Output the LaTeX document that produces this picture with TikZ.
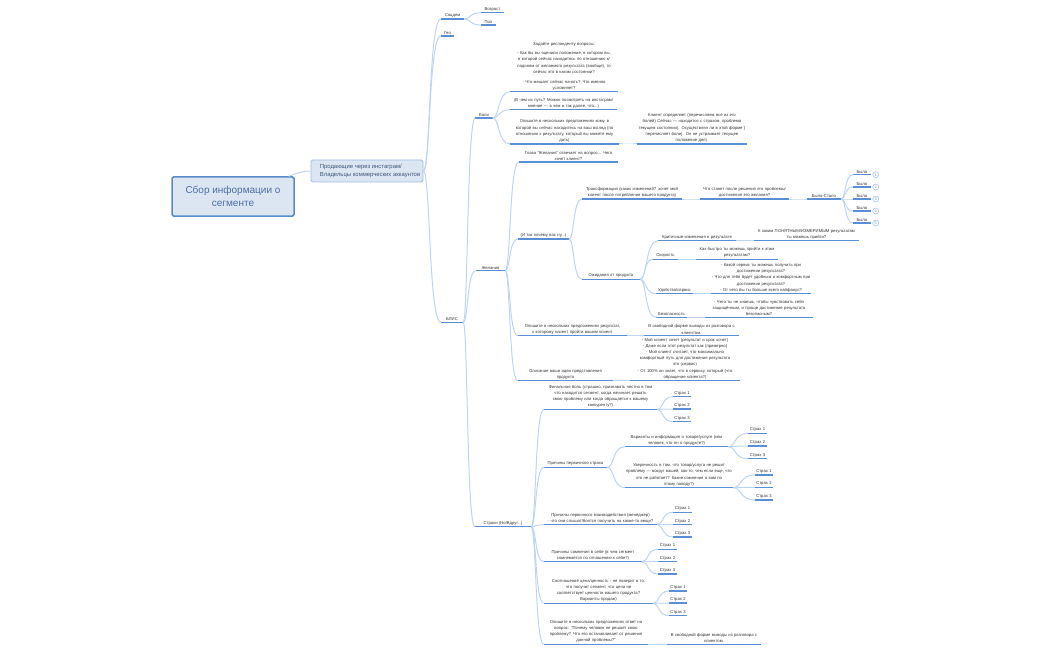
\documentclass[tikz,border=0pt]{standalone}
\usepackage{fontspec}
\setmainfont{Liberation Sans}
\usetikzlibrary{calc}
\definecolor{ulinec}{HTML}{5A8FD6}
\definecolor{connc}{HTML}{BFD4F0}
\definecolor{rootfill}{HTML}{DCE6F2}
\definecolor{rootline}{HTML}{5B8AC8}
\definecolor{subline}{HTML}{9DBCE4}
\definecolor{rootink}{HTML}{4F6FA5}
\definecolor{subink}{HTML}{3F5678}
\tikzset{
  topic/.style={anchor=south,inner xsep=0pt,inner ysep=1.4pt,align=center,
    font=\fontsize{4.2}{6.2}\selectfont,text=black!80,
    append after command={(\tikzlastnode.south west) edge[uline] (\tikzlastnode.south east)}},
  uline/.style={draw=ulinec,line width=1.1pt},
  conn/.style={draw=connc,line width=1pt},
  rootbox/.style={draw=rootline,line width=1.5pt,fill=rootfill,rounded corners=1.5pt,
    text=rootink,align=center,font=\fontsize{10}{13}\selectfont,inner sep=0pt},
  subbox/.style={draw=subline,line width=0.8pt,fill=rootfill,rounded corners=1.5pt,
    text=subink,align=left,font=\fontsize{5.9}{8}\selectfont,inner sep=0pt},
  notec/.style={circle,draw=subline,line width=0.5pt,fill=white,minimum size=6pt,inner sep=0pt,
    text=ulinec,font=\fontsize{3.8}{4}\selectfont}
}
% name, x1, x2, y, text
\newcommand{\topic}[5]{\pgfmathsetmacro{\tw}{#3-#2}\pgfmathsetmacro{\tc}{(#2+#3)/2}%
  \node[topic,text width=\tw pt,minimum width=\tw pt] (#1) at (\tc,#4) {#5};}
% parent, child: leaves the parent flat, turns early, runs flat into the child
\newcommand{\lnk}[2]{\draw[conn] let \p1=(#1.south east),\p2=(#2.south west) in
  (\p1) .. controls ({0.6*\x1+0.4*\x2},\y1) and ({0.7*\x1+0.3*\x2},\y2) .. (\p2);}
\begin{document}
\begin{tikzpicture}[x=1pt,y=-1pt]
\useasboundingbox (0,0) rectangle (1050,650);
\node[rootbox,minimum width=122pt,minimum height=39pt] (root) at (233,196.5) {Сбор информации о\\сегменте};
\node[subbox,minimum width=112pt,minimum height=22pt] (sub) at (367,171) {\hspace{6pt}\begin{tabular}{@{}l@{}}Продающие через инстаграм/\\Владельцы коммерческих аккаунтов\end{tabular}};
\draw[conn] (root.north east) ++(-6,0) .. controls +(8,-3) and +(-8,0) .. (sub.west);

\topic{soc}{441}{464}{19}{Соцдем}
\topic{age}{481}{504}{12.7}{Возраст}
\topic{sex}{481}{496}{25}{Пол}
\topic{geo}{441}{454}{36}{Гео}
\topic{blis}{441}{463}{322.3}{БЛИС}
\topic{pain}{475.5}{492.5}{118}{Боли}
\topic{want}{476}{505}{270.7}{Желания}
\topic{fear}{475}{531}{526.7}{Страхи (Но/Вдруг...)}

\topic{p1}{510}{618}{91.7}{Задайте респонденту вопросы:\\[3.5pt]- Как бы вы оценили положение, в котором вы,\\в которой сейчас находитесь по отношению к/\\ладоням от желаемого результата (вообще), то\\сейчас это в каком состоянии?\\[3.5pt]- Что мешает сейчас начать? Что именно\\усложняет?}
\topic{p2}{510}{617}{109.7}{(В чем их путь? Можно посмотреть на инстаграм/\\мнение — в чем и так далее, что...)}
\topic{p3}{510}{619}{144}{Опишите в нескольких предложениях кому, в\\которой вы сейчас находитесь на ваш взгляд (по\\отношению к результату, который вы можете ему\\дать)}
\topic{p3a}{637}{747}{144}{Клиент определяет (перечисляем все из его\\болей) Сейчас — находится с страхом, проблема\\текущем состоянии). Осуществляя ли в этой форме (\\перечисляет боли). Он не устраивает текущее\\положение дел).}

\topic{w1}{519}{618}{162}{Глава "Желания" отвечает на вопрос... Чего\\хочет клиент?}
\topic{w2}{518}{569}{239}{(И так почему вас ну...)}
\topic{w3}{518}{627}{335.7}{Опишите в нескольких предложениях результат,\\к которому клиент пройти вашим клиент}
\topic{w3a}{644}{739}{335.7}{В свободной форме выводы из разговора с\\клиентом.}
\topic{w4}{518}{613}{380.7}{Описание ваши идеи представления\\продукта}
\topic{w4a}{630}{740}{380.7}{- Мой клиент хочет (результат и срок хочет)\\- Даже если этот результат как (примерно)\\- Мой клиент считает, что максимально\\комфортный путь для достижения результата\\это (сервис)\\- От 100\% он знает, что в сервису, который (что\\обращение клиента?)}

\topic{t1}{582}{682}{199}{Трансформация (каких изменений? хочет мой\\клиент после потребления вашего продукта)}
\topic{t1a}{700}{789}{199}{Что станет после решения его проблемы/\\достижения его желания?}
\topic{t1b}{807}{841}{199}{Было-Стало}
\topic{b1}{853}{871}{174.7}{Было}
\topic{b2}{853}{871}{187}{Было}
\topic{b3}{853}{871}{199}{Было}
\topic{b4}{853}{871}{211}{Было}
\topic{b5}{853}{871}{223}{Было}
\node[notec] (c1) at (875.7,174.7) {1};
\node[notec] (c2) at (875.7,187) {2};
\node[notec] (c3) at (875.7,199) {3};
\node[notec] (c4) at (875.7,211) {4};
\node[notec] (c5) at (875.7,223) {5};

\topic{t2}{582}{640}{279.3}{Ожидания от продукта}
\topic{e1}{658}{736}{240.7}{Критичные-изменения в результате}
\topic{e1a}{754}{859}{240.7}{К каким ПОНЯТНЫМ/ИЗМЕРИМЫМ результатам\\ты можешь прийти?}
\topic{e2}{653}{678}{259.3}{Скорость}
\topic{e2a}{696}{778}{259.3}{Как быстро ты можешь прийти к этим\\результатам?}
\topic{e3}{656}{693}{293.7}{Удобство/сервис}
\topic{e3a}{711}{811}{293.7}{- Какой сервис ты можешь получить при\\достижении результата?\\- Что для тебя будет удобным и комфортным при\\достижении результата?\\- От чего бы ты больше всего кайфанул?}
\topic{e4}{656}{687}{317.3}{Безопасность}
\topic{e4a}{705}{813}{317.3}{- Чего ты не знаешь, чтобы чувствовать себя\\защищённым, и проще достижение результата\\безопасным?}

\topic{f1}{544}{657}{409.3}{Финальная боль (страшно, признавать честно в том\\что находится сегмент, когда начинает решать\\свою проблему или когда обращается к вашему\\конкуренту?)}
\topic{f1x}{673}{691}{396.7}{Страх 1}
\topic{f1y}{673}{691}{409}{Страх 2}
\topic{f1z}{673}{691}{421.7}{Страх 3}
\topic{f2}{544}{607}{467.3}{Причины первичного страха}
\topic{g1}{625}{728}{446.7}{Варианты и информация о товаре/услуге (кем\\человек, что он о продукте?)}
\topic{g1x}{748}{767}{433.3}{Страх 1}
\topic{g1y}{748}{767}{446}{Страх 2}
\topic{g1z}{748}{767}{458.7}{Страх 3}
\topic{g2}{625}{733}{487.7}{Уверенность в том, что товар/услуга не решит\\проблему — вокруг вашей, как-то, чем если еще, что\\это не работает? Какие сомнения о вам по\\этому поводу?)}
\topic{g2x}{755}{773}{475}{Страх 1}
\topic{g2y}{755}{773}{487.3}{Страх 2}
\topic{g2z}{755}{773}{500}{Страх 3}
\topic{f3}{544}{657}{524.7}{Причины первичного взаимодействия (менеджер)\\- что они слышат/боятся получить на какие-то вещи?}
\topic{f3x}{673}{692}{512.3}{Страх 1}
\topic{f3y}{673}{692}{524.7}{Страх 2}
\topic{f3z}{673}{692}{537}{Страх 3}
\topic{f4}{544}{642}{561.7}{Причины сомнения в себе (в чем сегмент\\сомневается по отношению к себе?)}
\topic{f4x}{658}{677}{549.3}{Страх 1}
\topic{f4y}{658}{677}{561.7}{Страх 2}
\topic{f4z}{658}{677}{574}{Страх 3}
\topic{f5}{544}{653}{603.3}{Соотношение цена/ценность - не поверит в то,\\что получит сегмент, что цена не\\соответствует ценности вашего продукта?\\Варианты продаж)}
\topic{f5x}{669}{687}{591}{Страх 1}
\topic{f5y}{669}{687}{603}{Страх 2}
\topic{f5z}{669}{687}{615.7}{Страх 3}
\topic{f6}{544}{648}{644.3}{Опишите в нескольких предложениях ответ на\\вопрос: "Почему человек не решает свою\\проблему? Что его останавливает от решения\\данной проблемы?"}
\topic{f6a}{667}{761}{644.3}{В свободной форме выводы из разговора с\\клиентом.}

% connectors
\foreach \c in {soc,geo,blis}{\draw[conn] let \p1=(sub.east),\p2=(\c.south west) in (\p1) .. controls ({0.6*\x1+0.4*\x2},\y1) and ({0.7*\x1+0.3*\x2},\y2) .. (\p2);}
\lnk{soc}{age}\lnk{soc}{sex}
\lnk{blis}{pain}\lnk{blis}{want}\lnk{blis}{fear}
\lnk{pain}{p1}\lnk{pain}{p2}\lnk{pain}{p3}\lnk{p3}{p3a}
\lnk{want}{w1}\lnk{want}{w2}\lnk{want}{w3}\lnk{want}{w4}\lnk{w3}{w3a}\lnk{w4}{w4a}
\lnk{w2}{t1}\lnk{w2}{t2}\lnk{t1}{t1a}\lnk{t1a}{t1b}
\foreach \c in {b1,b2,b3,b4,b5}{\lnk{t1b}{\c}}
\foreach \c in {e1,e2,e3,e4}{\lnk{t2}{\c}}
\lnk{e1}{e1a}\lnk{e2}{e2a}\lnk{e3}{e3a}\lnk{e4}{e4a}
\foreach \c in {f1,f2,f3,f4,f5,f6}{\lnk{fear}{\c}}
\foreach \c in {f1x,f1y,f1z}{\lnk{f1}{\c}}
\lnk{f2}{g1}\lnk{f2}{g2}
\foreach \c in {g1x,g1y,g1z}{\lnk{g1}{\c}}
\foreach \c in {g2x,g2y,g2z}{\lnk{g2}{\c}}
\foreach \c in {f3x,f3y,f3z}{\lnk{f3}{\c}}
\foreach \c in {f4x,f4y,f4z}{\lnk{f4}{\c}}
\foreach \c in {f5x,f5y,f5z}{\lnk{f5}{\c}}
\lnk{f6}{f6a}
\end{tikzpicture}
\end{document}
